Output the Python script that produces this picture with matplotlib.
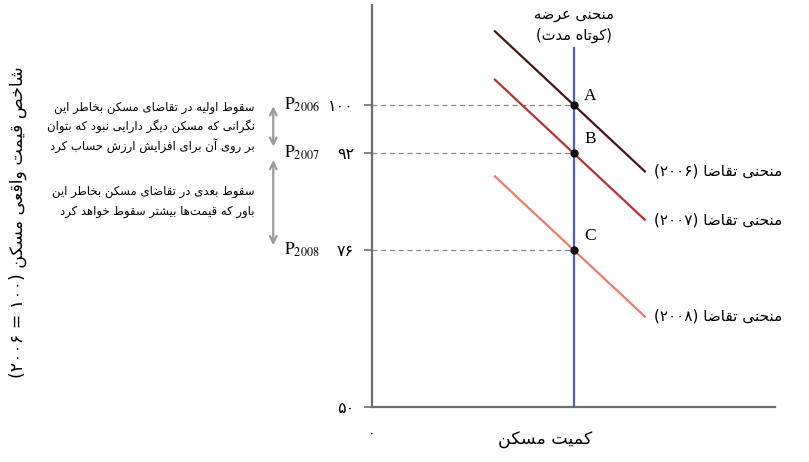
import numpy as np
import matplotlib
matplotlib.use("Agg")
import matplotlib.pyplot as plt

plt.rcParams['font.family'] = ['DejaVu Sans']
plt.rcParams['mathtext.fontset'] = 'stix'

# --- minimal Persian shaping (matplotlib 3.10 has no complex text layout) ---
# letter: (isolated, final, initial, medial) ; 2-tuple -> right-joining only
FORMS = {
    'ا': (0xFE8D, 0xFE8E), 'آ': (0xFE81, 0xFE82), 'د': (0xFEA9, 0xFEAA),
    'ذ': (0xFEAB, 0xFEAC), 'ر': (0xFEAD, 0xFEAE), 'ز': (0xFEAF, 0xFEB0),
    'و': (0xFEED, 0xFEEE), 'ژ': (0xFB8A, 0xFB8B),
    'ب': (0xFE8F, 0xFE90, 0xFE91, 0xFE92), 'ت': (0xFE95, 0xFE96, 0xFE97, 0xFE98),
    'ث': (0xFE99, 0xFE9A, 0xFE9B, 0xFE9C), 'ج': (0xFE9D, 0xFE9E, 0xFE9F, 0xFEA0),
    'ح': (0xFEA1, 0xFEA2, 0xFEA3, 0xFEA4), 'خ': (0xFEA5, 0xFEA6, 0xFEA7, 0xFEA8),
    'س': (0xFEB1, 0xFEB2, 0xFEB3, 0xFEB4), 'ش': (0xFEB5, 0xFEB6, 0xFEB7, 0xFEB8),
    'ص': (0xFEB9, 0xFEBA, 0xFEBB, 0xFEBC), 'ض': (0xFEBD, 0xFEBE, 0xFEBF, 0xFEC0),
    'ط': (0xFEC1, 0xFEC2, 0xFEC3, 0xFEC4), 'ظ': (0xFEC5, 0xFEC6, 0xFEC7, 0xFEC8),
    'ع': (0xFEC9, 0xFECA, 0xFECB, 0xFECC), 'غ': (0xFECD, 0xFECE, 0xFECF, 0xFED0),
    'ف': (0xFED1, 0xFED2, 0xFED3, 0xFED4), 'ق': (0xFED5, 0xFED6, 0xFED7, 0xFED8),
    'ل': (0xFEDD, 0xFEDE, 0xFEDF, 0xFEE0), 'م': (0xFEE1, 0xFEE2, 0xFEE3, 0xFEE4),
    'ن': (0xFEE5, 0xFEE6, 0xFEE7, 0xFEE8), 'ه': (0xFEE9, 0xFEEA, 0xFEEB, 0xFEEC),
    'ی': (0xFBFC, 0xFBFD, 0xFBFE, 0xFBFF), 'ک': (0xFB8E, 0xFB8F, 0xFB90, 0xFB91),
    'گ': (0xFB92, 0xFB93, 0xFB94, 0xFB95), 'پ': (0xFB56, 0xFB57, 0xFB58, 0xFB59),
    'چ': (0xFB7A, 0xFB7B, 0xFB7C, 0xFB7D),
}
DIGITS = set('0123456789۰۱۲۳۴۵۶۷۸۹')
MIRROR = {'(': ')', ')': '('}


def shape(s):
    out = []
    for i, ch in enumerate(s):
        f = FORMS.get(ch)
        if f is None:
            out.append(ch)
            continue
        prev = FORMS.get(s[i - 1]) if i > 0 else None
        nxt = FORMS.get(s[i + 1]) if i + 1 < len(s) else None
        join_prev = prev is not None and len(prev) == 4
        join_next = len(f) == 4 and nxt is not None
        if join_prev and join_next:
            out.append(chr(f[3]))
        elif join_prev:
            out.append(chr(f[1]))
        elif join_next:
            out.append(chr(f[2]))
        else:
            out.append(chr(f[0]))
    return ''.join(out).replace('\u200c', '')


def fa(s):
    s = shape(s)
    runs, cur, cur_d = [], '', None
    for ch in s:
        d = ch in DIGITS
        if cur and d != cur_d:
            runs.append((cur, cur_d))
            cur = ''
        cur += ch
        cur_d = d
    if cur:
        runs.append((cur, cur_d))
    vis = ''
    for txt, d in reversed(runs):
        vis += txt if d else ''.join(MIRROR.get(c, c) for c in reversed(txt))
    return vis


# --- data ---
eq_prices = [100, 92, 76]
years = ['2006', '2007', '2008']
years_fa = ['۲۰۰۶', '۲۰۰۷', '۲۰۰۸']
point_names = ['A', 'B', 'C']
demand_colors = ['#4a1416', '#b8312f', '#eb7d66']
supply_q = 50
demand_slope = -0.623
demand_x = [30.5, 67.7]
ytick_vals = [50, 76, 92, 100]
ytick_labels = ['۵۰', '۷۶', '۹۲', '۱۰۰']

note1 = ['سقوط اولیه در تقاضای مسکن بخاطر این',
         'نگرانی که مسکن دیگر دارایی نبود که بتوان',
         'بر روی آن برای افزایش ارزش حساب کرد']
note2 = ['سقوط بعدی در تقاضای مسکن بخاطر این',
         'باور که قیمت\u200cها بیشتر سقوط خواهد کرد']

fig = plt.figure(figsize=(8.09, 4.62), dpi=100)
W, H = 809, 462
ax = fig.add_axes([372 / W, 55 / H, 403 / W, 402 / H])
ax.set_xlim(0, 100)
ax.set_ylim(50, 116.5)

for side in ['top', 'right']:
    ax.spines[side].set_visible(False)
for side in ['left', 'bottom']:
    ax.spines[side].set_color('#6e6e6e')
    ax.spines[side].set_linewidth(1.6)

ax.set_yticks(ytick_vals)
ax.set_yticklabels(ytick_labels)
ax.tick_params(axis='y', length=6, width=1.2, color='#6e6e6e', pad=7, labelsize=11.5)
ax.set_xticks([0])
ax.set_xticklabels(['۰'])
ax.tick_params(axis='x', length=0, pad=14, labelsize=10)

# supply
ax.plot([supply_q, supply_q], [50, 109.4], color='#4f5fb5', lw=1.6, zorder=3)
ax.text(supply_q, 115.0, fa('منحنی عرضه'), ha='center', va='center', fontsize=10.5, clip_on=False)
ax.text(supply_q, 111.4, fa('(کوتاه مدت)'), ha='center', va='center', fontsize=10.5, clip_on=False)

# demand curves, dashed guides, equilibrium points
xs = np.array(demand_x)
for p, c, yr, name in zip(eq_prices, demand_colors, years_fa, point_names):
    ys = p + demand_slope * (xs - supply_q)
    ax.plot(xs, ys, color=c, lw=1.6, zorder=2)
    ax.text(xs[1] + 2.3, ys[1], fa('منحنی تقاضا (' + yr + ')'), ha='left', va='center',
            fontsize=11, clip_on=False)
    ax.plot([0, supply_q], [p, p], color='#888888', lw=0.9, ls=(0, (4, 3)), zorder=1)
    ax.plot(supply_q, p, 'o', color='#111111', ms=5, zorder=4)
    dy = 1.4 if name == 'A' else 2.3
    ax.text(supply_q + 2.6, p + dy, name, fontsize=12.5, family='Liberation Serif',
            ha='left', va='center')

# price arrows and labels to the left
arrow_x = -24.5
ax.annotate('', xy=(arrow_x, 92.6), xytext=(arrow_x, 100.2), annotation_clip=False,
            arrowprops=dict(arrowstyle='<->', color='#9a9a9a', lw=1.6, mutation_scale=12))
ax.annotate('', xy=(arrow_x, 76.3), xytext=(arrow_x, 91.3), annotation_clip=False,
            arrowprops=dict(arrowstyle='<->', color='#9a9a9a', lw=1.6, mutation_scale=12))
for p, yr in zip(eq_prices, years):
    ax.text(-21.8, p, r'$\mathrm{P}_{\mathrm{' + yr + '}}$', fontsize=12.5, ha='left',
            va='center', clip_on=False)

for i, line in enumerate(note1):
    fig.text(255 / W, 1 - (107 + 19.5 * i) / H, fa(line), ha='right', va='center', fontsize=8.4)
for i, line in enumerate(note2):
    fig.text(255 / W, 1 - (192 + 19.5 * i) / H, fa(line), ha='right', va='center', fontsize=8.4)

fig.text(545 / W, 1 - 440 / H, fa('کمیت مسکن'), ha='center', va='center', fontsize=12.5)
fig.text(18 / W, 1 - 222 / H, fa('شاخص قیمت واقعی مسکن (۱۰۰ = ۲۰۰۶)'), ha='center',
         va='center', rotation=90, fontsize=12.5)

fig.savefig('out.png', dpi=100)
